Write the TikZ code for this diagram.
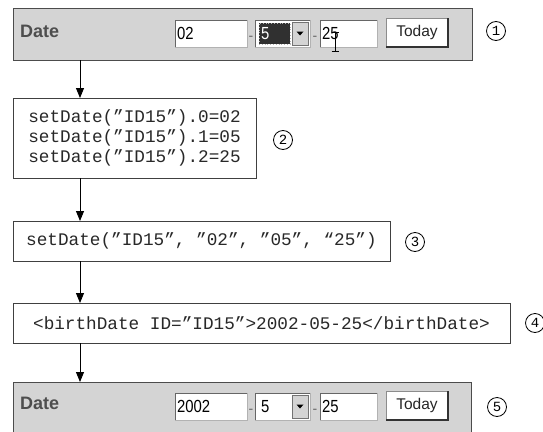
\documentclass[tikz,border=0pt]{standalone}
\usepackage{fontspec}
\setmainfont{Liberation Sans}
\newfontfamily\monof{Liberation Mono}
\usetikzlibrary{arrows.meta,calc}
\definecolor{panelgray}{RGB}{212,212,212}
\definecolor{datetxt}{RGB}{78,78,78}
\definecolor{selgray}{RGB}{48,48,48}
\definecolor{inktxt}{RGB}{40,40,40}
\tikzset{
  panel/.style={draw=black!70, fill=panelgray, line width=1pt, anchor=north west, inner sep=0pt, outer sep=0pt},
  datelbl/.style={anchor=base west, inner sep=0pt, text=datetxt, font=\fontsize{18}{20}\selectfont\bfseries},
  field/.style={fill=white, draw=black!30, line width=0.8pt, anchor=north west, inner sep=0pt, outer sep=0pt,
    minimum height=27pt, align=left, inner xsep=2pt, font=\fontsize{17.5}{18}\selectfont},
  sunken/.style={draw=black!60, line width=1pt},
  dashtxt/.style={anchor=base, inner sep=0pt, text=black!60, font=\fontsize{14}{14}\selectfont},
  ddbtn/.style={fill=panelgray, draw=black!55, line width=0.8pt, anchor=north west, inner sep=0pt, outer sep=0pt,
    minimum width=16pt, minimum height=23pt},
  todaybtn/.style={fill=white, draw=black!45, line width=0.8pt, anchor=north west, inner sep=0pt, outer sep=0pt,
    minimum width=62pt, minimum height=29pt, text=black!85, font=\fontsize{15.5}{15}\selectfont},
  raised/.style={draw=black!80, line width=1.5pt},
  box/.style={draw=black!75, line width=0.9pt, fill=white, anchor=north west, inner sep=0pt, outer sep=0pt,
    align=left, text=inktxt, font=\monof\fontsize{17.7}{20}\selectfont},
  circ/.style={draw, circle, inner sep=0pt, minimum size=19pt, line width=0.8pt, font=\monof\fontsize{14}{14}\selectfont},
  arr/.style={line width=1pt, -{Triangle[width=8pt,length=10pt]}},
}
\newcommand{\cond}[1]{\scalebox{0.85}[1]{#1}}
\begin{document}
\begin{tikzpicture}[x=1pt,y=-1pt]
\useasboundingbox (0,0) rectangle (543,431);
\clip (0,0) rectangle (543,431);
\fill[white] (0,0) rectangle (543,431);

% ---------- panel 1 ----------
\node[panel, minimum width=459pt, minimum height=52pt] (p1) at (13,8) {};
\node[datelbl] (d1) at (20,37) {Date};
\node[field, text width=68pt] (fa1) at (175,20) {\cond{02}};
\draw[sunken] (fa1.south west) |- (fa1.north east);
\node[dashtxt] (h1a) at (251,40) {-};
\node[field, minimum width=55pt, inner xsep=0pt] (dd1) at (255,20) {};
\draw[sunken] (dd1.south west) |- (dd1.north east);
\node[fill=selgray, draw=white!70!black, dotted, line width=0.8pt, anchor=north west, inner sep=0pt, outer sep=0pt,
  minimum width=31pt, minimum height=21pt, text width=27pt, inner xsep=2pt, align=left, text=white,
  font=\fontsize{17.5}{18}\selectfont] (sel1) at (259,23) {\cond{5}};
\node[ddbtn] (b1) at (292,22) {};
\fill ($(b1.center)+(-3.5,-2)$) -- ++(7,0) -- ++(-3.5,4) -- cycle;
\node[dashtxt] (h1b) at (315,40) {-};
\node[field, text width=53pt] (fc1) at (320,20) {\cond{25}};
\draw[sunken] (fc1.south west) |- (fc1.north east);
\draw[line width=0.9pt] (335,32) -- (335,51) (331.5,32) -- (338.5,32) (331.5,51) -- (338.5,51);
\node[todaybtn] (t1) at (386,18) {Today};
\draw[raised] (t1.south west) -| (t1.north east);
\node[circ] (c1) at (496,31) {1};

% ---------- box 2 ----------
\node[box, minimum width=243pt, minimum height=80pt] (b2) at (13,98)
  {setDate(”ID15”).0=02\\setDate(”ID15”).1=05\\setDate(”ID15”).2=25};
\node[circ] (c2) at (283,140) {2};

% ---------- box 3 ----------
\node[box, minimum width=377pt, minimum height=40pt] (b3) at (13,221)
  {setDate(”ID15”, ”02”, ”05”, “25”)};
\node[circ] (c3) at (415,242) {3};

% ---------- box 4 ----------
\node[box, minimum width=497pt, minimum height=40pt] (b4) at (13,303)
  {<birthDate ID=”ID15”>2002-05-25</birthDate>};
\node[circ] (c4) at (535,323) {4};

% ---------- panel 5 ----------
\node[panel, minimum width=458pt, minimum height=60pt] (p5) at (13,382) {};
\node[datelbl] (d5) at (20,409) {Date};
\node[field, text width=68pt] (fa5) at (175,393) {\cond{2002}};
\draw[sunken] (fa5.south west) |- (fa5.north east);
\node[dashtxt] (h5a) at (251,413) {-};
\node[field, minimum width=55pt, text width=51pt] (dd5) at (255,393) {\hspace*{4pt}\cond{5}};
\draw[sunken] (dd5.south west) |- (dd5.north east);
\node[ddbtn] (b5) at (292,395) {};
\fill ($(b5.center)+(-3.5,-2)$) -- ++(7,0) -- ++(-3.5,4) -- cycle;
\node[dashtxt] (h5b) at (315,413) {-};
\node[field, text width=53pt] (fc5) at (320,393) {\cond{25}};
\draw[sunken] (fc5.south west) |- (fc5.north east);
\node[todaybtn] (t5) at (386,391) {Today};
\draw[raised] (t5.south west) -| (t5.north east);
\node[circ] (c5) at (497,407) {5};

% ---------- connectors ----------
\coordinate (ax) at (80,0);
\draw[arr] (p1.south -| ax) -- (b2.north -| ax);
\draw[arr] (b2.south -| ax) -- (b3.north -| ax);
\draw[arr] (b3.south -| ax) -- (b4.north -| ax);
\draw[arr] (b4.south -| ax) -- (p5.north -| ax);
\end{tikzpicture}
\end{document}
